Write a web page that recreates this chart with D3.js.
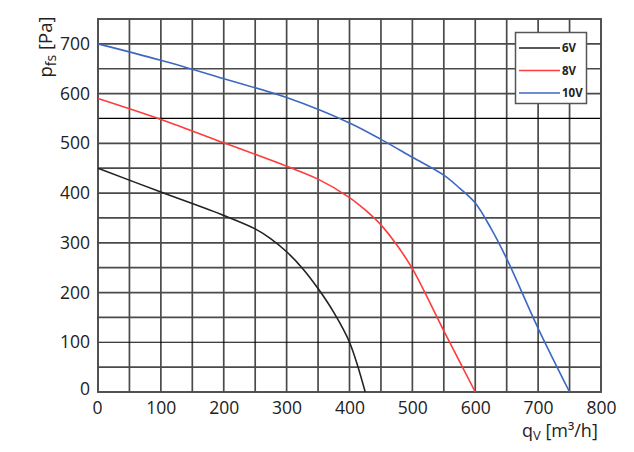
<!DOCTYPE html>
<html>
<head>
<meta charset="utf-8">
<script src="https://cdn.jsdelivr.net/npm/d3@7"></script>
<style>
  body { margin: 0; background: #fff; }
  svg { display: block; font-family: "Open Sans", sans-serif; }
</style>
</head>
<body>
<script>
// Data
var xTicks = [0, 100, 200, 300, 400, 500, 600, 700, 800];
var yTicks = [0, 100, 200, 300, 400, 500, 600, 700];
var curve6V  = [[0,450],[100,402],[200,355],[250,328],[275,308],[300,282],[325,249],[350,208],[375,160],[400,100],[425,0]];
var curve8V  = [[0,590],[100,548],[200,501],[300,454],[350,428],[400,391],[425,366],[450,336],[475,296],[500,248],[550,123],[600,0]];
var curve10V = [[0,700],[100,667],[200,630],[300,592],[400,541],[450,508],[500,472],[550,436],[575,410],[600,380],[625,329],[650,268],[700,128],[750,0]];
var seriesNames  = ["6V", "8V", "10V"];
var seriesColors = ["#222222", "#ff3b3b", "#3d68c2"];

var W = 634, H = 452;
var m = { left: 98, right: 601, top: 19, bottom: 392 };

var svg = d3.select("body").append("svg").attr("width", W).attr("height", H);

var x = d3.scaleLinear().domain([0, 800]).range([m.left, m.right]);
var y = d3.scaleLinear().domain([0, 750]).range([m.bottom, m.top]);

// Grid
var grid = svg.append("g");
d3.range(50, 800, 50).forEach(function(v){
  grid.append("line").attr("x1", x(v)).attr("x2", x(v)).attr("y1", y(0)).attr("y2", y(750))
    .attr("stroke", "#4a4a4a").attr("stroke-width", 1.7);
});
d3.range(50, 750, 50).forEach(function(v){
  var dark = (v === 100 || v === 550);
  grid.append("line").attr("x1", x(0)).attr("x2", x(800)).attr("y1", y(v)).attr("y2", y(v))
    .attr("stroke", dark ? "#000" : "#4a4a4a").attr("stroke-width", dark ? 1.2 : 1.7);
});
grid.append("rect").attr("x", x(0)).attr("y", y(750))
  .attr("width", x(800) - x(0)).attr("height", y(0) - y(750))
  .attr("fill", "none").attr("stroke", "#4a4a4a").attr("stroke-width", 1.9);

// Axes (labels only)
var xAxis = svg.append("g").attr("transform", "translate(0," + y(0) + ")")
  .call(d3.axisBottom(x).tickValues(xTicks).tickSize(0).tickPadding(5));
xAxis.select(".domain").remove();
xAxis.selectAll("text").attr("font-size", 17.5).attr("fill", "#222")
  .attr("font-family", "Open Sans, sans-serif").attr("dy", "0.95em")
  .attr("dx", function(d){ return d === 0 ? -1 : 0; });

var yAxis = svg.append("g").attr("transform", "translate(" + x(0) + ",0)")
  .call(d3.axisLeft(y).tickValues(yTicks).tickSize(0).tickPadding(8));
yAxis.select(".domain").remove();
yAxis.selectAll("text").attr("font-size", 17.5).attr("fill", "#222")
  .attr("font-family", "Open Sans, sans-serif")
  .attr("dy", function(d){ return d === 0 ? "0.15em" : "0.32em"; });

// Curves
var line = d3.line().x(function(d){ return x(d[0]); }).y(function(d){ return y(d[1]); })
  .curve(d3.curveCatmullRom.alpha(0.5));
[curve6V, curve8V, curve10V].forEach(function(data, i){
  svg.append("path").datum(data).attr("d", line)
    .attr("fill", "none").attr("stroke", seriesColors[i]).attr("stroke-width", 1.6);
});

// Legend
var lg = svg.append("g");
lg.append("rect").attr("x", 515.5).attr("y", 32.5).attr("width", 71).attr("height", 71)
  .attr("fill", "#fff").attr("stroke", "#555").attr("stroke-width", 1.5);
seriesNames.forEach(function(name, i){
  var ly = 48 + i * 22.5;
  lg.append("line").attr("x1", 519).attr("x2", 560).attr("y1", ly).attr("y2", ly)
    .attr("stroke", seriesColors[i]).attr("stroke-width", 1.6);
  lg.append("text").attr("x", 562).attr("y", ly + 4).attr("font-size", 11.5)
    .attr("font-weight", "bold").attr("fill", "#222").text(name);
});

// Axis titles
var yt = svg.append("text").attr("transform", "translate(52,47) rotate(-90)")
  .attr("text-anchor", "middle").attr("font-size", 18.5).attr("fill", "#222");
yt.append("tspan").text("p");
yt.append("tspan").attr("font-size", 14).attr("dy", 4).text("fs");
yt.append("tspan").attr("dy", -4).text(" [Pa]");

var xt = svg.append("text").attr("x", 522).attr("y", 437).attr("font-size", 18).attr("fill", "#222");
xt.append("tspan").text("q");
xt.append("tspan").attr("font-size", 13).attr("dy", 3).text("V");
xt.append("tspan").attr("dy", -3).text(" [m³/h]");
</script>
</body>
</html>
